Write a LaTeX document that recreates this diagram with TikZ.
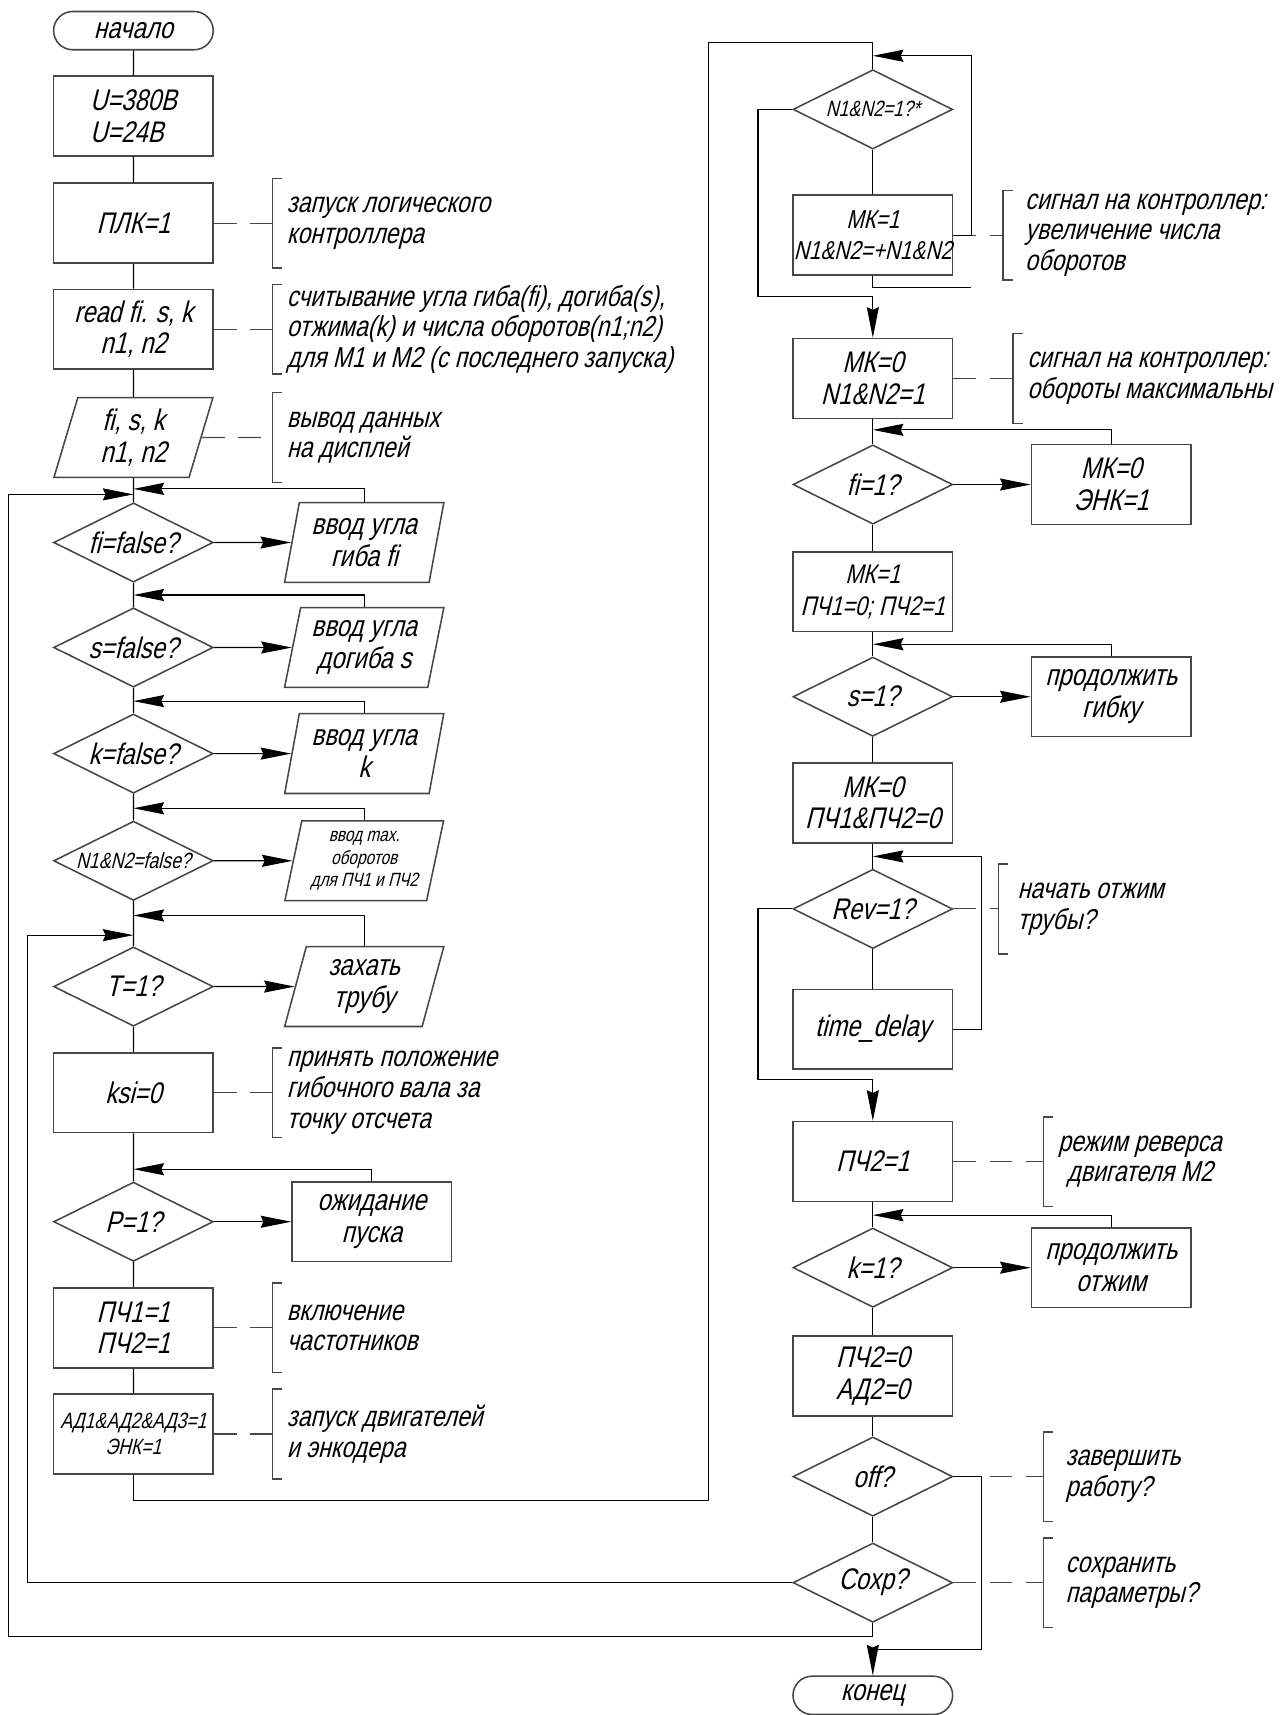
\documentclass[tikz,border=0pt]{standalone}
\usepackage{fontspec}
\setmainfont{Liberation Sans}[FakeStretch=0.8,FakeSlant=0.25]
\usetikzlibrary{calc,arrows.meta,shapes.geometric,shapes.misc}
\definecolor{shapegray}{RGB}{70,70,70}
\newcommand\mainfs{\fontsize{15.5}{16.5}\selectfont}
\newcommand\notefs{\fontsize{15}{16}\selectfont}
\newcommand\smallfs{\fontsize{11.5}{14}\selectfont}
\newcommand\tinyfs{\fontsize{10}{11.5}\selectfont}
\tikzset{
  flow/.style={line width=0.6pt,black},
  arr/.style={flow,-{Stealth[length=0.56cm,width=0.22cm,inset=0.05cm]}},
  blockbox/.style={rectangle,draw=shapegray,line width=0.8pt,minimum width=2.92cm,
    minimum height=1.46cm,inner sep=0pt,align=center,font=\mainfs},
  decision/.style={diamond,draw=shapegray,line width=0.8pt,minimum width=2.92cm,
    minimum height=1.45cm,inner sep=0pt,label={[font=\mainfs]center:#1}},
  iobox/.style={trapezium,trapezium left angle=76,trapezium right angle=104,
    trapezium stretches=true,draw=shapegray,line width=0.8pt,minimum width=2.92cm,
    minimum height=1.46cm,inner sep=0pt,align=center,font=\mainfs},
  terminal/.style={rounded rectangle,draw=shapegray,line width=0.8pt,minimum width=2.92cm,
    minimum height=0.7cm,inner sep=0pt,font=\mainfs},
  note/.style={anchor=west,align=left,inner xsep=0.26cm,inner ysep=0pt,font=\notefs},
  notelink/.style={shapegray,line width=0.6pt,dash pattern=on 0.42cm off 0.24cm},
  notebrk/.style={draw=shapegray,line width=0.8pt},
}

\begin{document}
\begin{tikzpicture}[x=0.02cm,y=-0.02cm]
\useasboundingbox (0,0) rectangle (1172,1568);

% left column
\node[terminal] (start) at (122,28) {начало};
\node[blockbox,align=left] (volt) at (122,106) {U=380В\\U=24В};
\node[blockbox] (plc) at (122,204) {ПЛК=1};
\node[blockbox] (read) at (122,301) {read fi. s, k\\n1, n2};
\node[iobox] (disp) at (122,400) {fi, s, k\\n1, n2};
\node[decision={fi=false?}] (qfi) at (122,496) {};
\node[decision={s=false?}] (qs) at (122,592) {};
\node[decision={k=false?}] (qk) at (122,689) {};
\node[decision={\smallfs N1\&N2=false?}] (qn) at (122,787) {};
\node[decision={T=1?}] (qt) at (122,902) {};
\node[blockbox] (ksi) at (122,999) {ksi=0};
\node[decision={P=1?}] (qp) at (122,1117) {};
\node[blockbox] (freq) at (122,1214) {ПЧ1=1\\ПЧ2=1};
\node[blockbox,font=\smallfs] (mot) at (122,1311) {АД1\&АД2\&АД3=1\\ЭНК=1};

% input blocks
\node[iobox] (infi) at (333,496) {ввод угла\\гиба fi};
\node[iobox] (ins) at (333,592) {ввод угла\\догиба s};
\node[iobox] (ink) at (333,689) {ввод угла\\k};
\node[iobox,font=\tinyfs] (inn) at (333,787) {ввод max.\\оборотов\\для ПЧ1 и ПЧ2};
\node[iobox] (grip) at (333,902) {захать\\трубу};
\node[blockbox] (wait) at (340,1117) {ожидание\\пуска};

% right column
\node[decision={\smallfs N1\&N2=1?*}] (qnn) at (798,100) {};
\node[blockbox,font=\fontsize{13.5}{16}\selectfont] (mk1) at (798,215) {МК=1\\N1\&N2=+N1\&N2};
\node[blockbox] (mk0) at (798,346) {МК=0\\N1\&N2=1};
\node[decision={fi=1?}] (qfi2) at (798,443) {};
\node[blockbox] (enc) at (1016,443) {МК=0\\ЭНК=1};
\node[blockbox,font=\fontsize{14}{16.5}\selectfont] (mk1b) at (798,541) {МК=1\\ПЧ1=0; ПЧ2=1};
\node[decision={s=1?}] (qs2) at (798,637) {};
\node[blockbox] (bend) at (1016,637) {продолжить\\гибку};
\node[blockbox] (mk0b) at (798,734) {МК=0\\ПЧ1\&ПЧ2=0};
\node[decision={Rev=1?}] (qrev) at (798,831) {};
\node[blockbox] (delay) at (798,941) {time\_delay};
\node[blockbox] (pch2) at (798,1062) {ПЧ2=1};
\node[decision={k=1?}] (qk2) at (798,1159) {};
\node[blockbox] (press) at (1016,1159) {продолжить\\отжим};
\node[blockbox] (stop) at (798,1258) {ПЧ2=0\\АД2=0};
\node[decision={off?}] (qoff) at (798,1350) {};
\node[decision={Сохр?}] (qsave) at (798,1447) {};
\node[terminal] (end) at (798,1550) {конец};

% notes
\node[note] (nplc) at (249,204) {запуск логического\\контроллера};
\node[note] (nread) at (249,301) {считывание угла гиба(fi), догиба(s),\\отжима(k) и числа оборотов(n1;n2)\\для М1 и М2 (с последнего запуска)};
\node[note] (ndisp) at (249,400) {вывод данных\\на дисплей};
\node[note] (nksi) at (249,999) {принять положение\\гибочного вала за\\точку отсчета};
\node[note] (nfreq) at (249,1214) {включение\\частотников};
\node[note] (nmot) at (249,1311) {запуск двигателей\\и энкодера};
\node[note,inner xsep=0.4cm] (nmk1) at (917,215) {сигнал на контроллер:\\увеличение числа\\оборотов};
\node[note] (nmk0) at (926,346) {сигнал на контроллер:\\обороты максимальны};
\node[note,inner xsep=0.34cm] (nrev) at (913,831) {начать отжим\\трубы?};
\node[note,align=center] (nrevm) at (954,1062) {режим реверса\\двигателя М2};
\node[note,inner xsep=0.4cm] (noff) at (954,1350) {завершить\\работу?};
\node[note,inner xsep=0.4cm] (nsave) at (954,1447) {сохранить\\параметры?};
\foreach \n in {nplc,nread,ndisp,nksi,nfreq,nmot,nmk1,nmk0,nrev,nrevm,noff,nsave}
  \draw[notebrk] ([shift={(9,-41)}]\n.west) -- ([shift={(0,-41)}]\n.west)
    -- ([shift={(0,41)}]\n.west) -- ([shift={(9,41)}]\n.west);
\foreach \a/\b in {plc/nplc,read/nread,disp/ndisp,ksi/nksi,freq/nfreq,mot/nmot,
  mk1/nmk1,mk0/nmk0,qrev/nrev,pch2/nrevm,qoff/noff,qsave/nsave}
  \draw[notelink] (\a) -- (\b);

% main flow
\draw[flow] (start) -- (volt) -- (plc) -- (read) -- (disp) -- (qfi) -- (qs) -- (qk)
  -- (qn) -- (qt) -- (ksi) -- (qp) -- (freq) -- (mot);
\draw[flow] (qnn) -- (mk1);
\draw[flow] (mk0) -- (qfi2) -- (mk1b) -- (qs2) -- (mk0b) -- (qrev) -- (delay);
\draw[flow] (pch2) -- (qk2) -- (stop) -- (qoff) -- (qsave);

% side branches
\foreach \q/\b in {qfi/infi,qs/ins,qk/ink,qn/inn,qt/grip,qp/wait,qfi2/enc,qs2/bend,qk2/press}
  \draw[arr] (\q) -- (\b);

% loops back, left column
\coordinate (jfi) at (122,447);
\coordinate (js) at (122,544);
\coordinate (jk) at (122,641);
\coordinate (jn) at (122,739);
\coordinate (jt) at (122,837);
\coordinate (jp) at (122,1069);
\draw[arr] (infi.north) |- (jfi);
\draw[arr] (ins.north) |- (js);
\draw[arr] (ink.north) |- (jk);
\draw[arr] (inn.north) |- (jn);
\draw[arr] (grip.north) |- (jt);
\draw[arr] (wait.north) |- (jp);

% loops back, right column
\coordinate (jnn) at (798,51);
\coordinate (lpC) at (888,51);
\coordinate (lpD) at (888,263);
\coordinate (lpE) at (693,271);
\draw[arr] (mk1.east) -| (lpC) -- (jnn);
\draw[flow] (mk1.south) |- (lpD);
\draw[arr] (qnn.west) -| (lpE) -| (mk0.north);
\coordinate (jfi2) at (798,393);
\coordinate (js2) at (798,589);
\coordinate (jk2) at (798,1111);
\draw[arr] (enc.north) |- (jfi2);
\draw[arr] (bend.north) |- (js2);
\draw[arr] (press.north) |- (jk2);
\coordinate (lpF) at (897,783);
\coordinate (jrev) at (798,783);
\coordinate (lpG) at (693,987);
\draw[arr] (delay.east) -| (lpF) -- (jrev);
\draw[arr] (qrev.west) -| (lpG) -| (pch2.north);
\coordinate (lpH) at (897,1508);
\draw[arr] (qoff.east) -| (lpH) -| (end.north);

% across the columns
\coordinate (rtA) at (648,1372);
\coordinate (rtB) at (798,39);
\draw[flow] (mot.south) |- (rtA) |- (rtB) -- (qnn.north);
\coordinate (lpA) at (8,1496);
\coordinate (jA) at (122,452);
\coordinate (lpB) at (25,1447);
\coordinate (jB) at (122,855);
\draw[arr] (qsave.south) |- (lpA) |- (jA);
\draw[arr] (qsave.west) -- (lpB) |- (jB);
\end{tikzpicture}
\end{document}
